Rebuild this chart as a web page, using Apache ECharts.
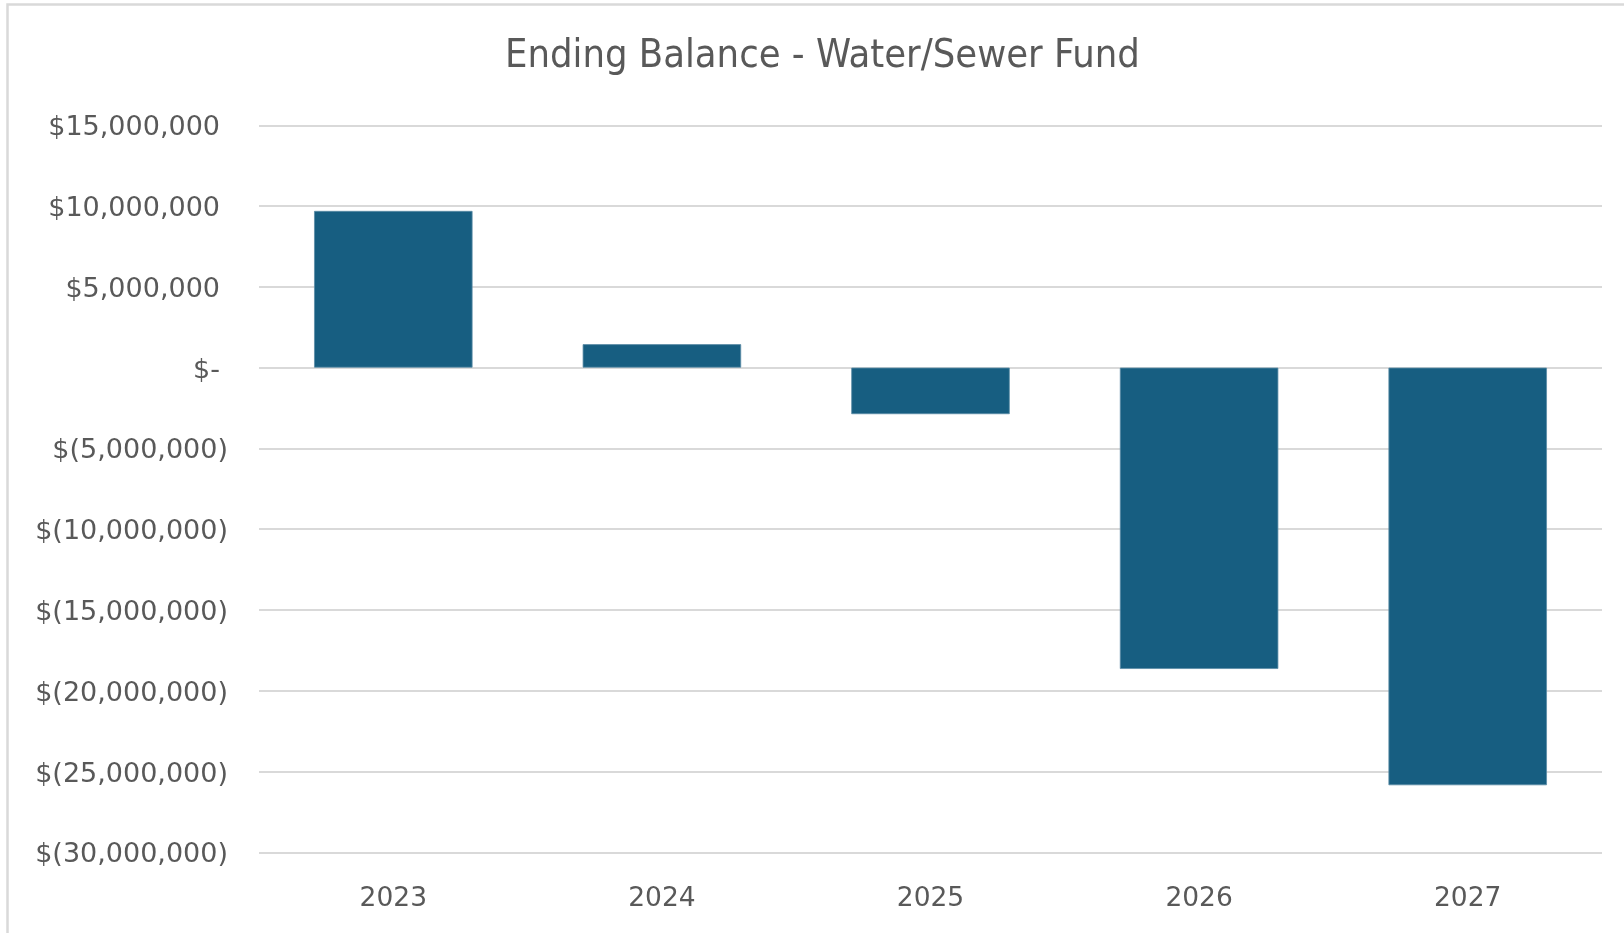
<!DOCTYPE html>
<html>
<head>
<meta charset="utf-8">
<title>Ending Balance - Water/Sewer Fund</title>
<script src="https://cdn.jsdelivr.net/npm/echarts@6/dist/echarts.min.js"></script>
<style>
  html, body { margin: 0; padding: 0; background: #ffffff; }
  #chart { width: 1624px; height: 933px; }
</style>
</head>
<body>
<div id="chart"></div>
<script>
// Fiscal years and projected ending balance of the Water/Sewer fund (USD)
const years = ['2023', '2024', '2025', '2026', '2027'];
const endingBalance = [9700000, 1450000, -2880000, -18650000, -25850000];

// Value axis tick marks (USD)
const valueTicks = [15000000, 10000000, 5000000, 0, -5000000, -10000000, -15000000, -20000000, -25000000, -30000000];

const TEXT = '#595959';
const GRID = '#d9d9d9';
const BAR = '#175e81';
const LABEL_FONT = '"DejaVu Sans", "Liberation Sans", sans-serif';

// Accounting style: $1,000 / $(1,000) / $-, positives padded to line up with the closing parenthesis
function accounting(v) {
  if (v === 0) return '{v|$-}{s| }';
  const a = Math.abs(v).toLocaleString('en-US');
  return v < 0 ? '{v|$(' + a + ')}' : '{v|$' + a + '}{s| }';
}

const chart = echarts.init(document.getElementById('chart'), null, { renderer: 'canvas' });

chart.setOption({
  backgroundColor: '#ffffff',
  animation: false,
  title: {
    text: 'Ending Balance - Water/Sewer Fund',
    left: 505,
    top: 37,
    padding: 0,
    textStyle: {
      fontFamily: '"Liberation Sans Narrow", "DejaVu Sans Condensed", "Roboto", sans-serif',
      fontSize: 39.5,
      fontWeight: 'normal',
      color: TEXT
    }
  },
  graphic: [{
    type: 'rect',
    silent: true,
    shape: { x: 7.5, y: 4.5, width: 1700, height: 1000 },
    style: { fill: 'none', stroke: GRID, lineWidth: 2.5 }
  }],
  grid: { left: 259, right: 22, top: 125.3, bottom: 80.7, containLabel: false },
  xAxis: {
    type: 'category',
    data: years,
    axisLine: { show: false },
    axisTick: { show: false },
    axisLabel: {
      margin: 33,
      fontFamily: LABEL_FONT,
      fontSize: 26.5,
      color: TEXT
    },
    splitLine: { show: false }
  },
  yAxis: {
    type: 'value',
    min: Math.min(...valueTicks),
    max: Math.max(...valueTicks),
    interval: valueTicks[0] - valueTicks[1],
    axisLine: { show: false },
    axisTick: { show: false },
    axisLabel: {
      margin: 31,
      align: 'right',
      padding: [6, 0, 0, 0],
      formatter: accounting,
      rich: {
        v: { fontFamily: LABEL_FONT, fontSize: 27, color: TEXT },
        s: { fontFamily: LABEL_FONT, fontSize: 27, width: 8 }
      }
    },
    splitLine: { lineStyle: { color: GRID, width: 2 } }
  },
  series: [{
    name: 'Ending Balance',
    type: 'bar',
    data: endingBalance,
    barWidth: '59%',
    itemStyle: { color: BAR, borderColor: '#5b8ca6', borderWidth: 0.8 }
  }]
});
</script>
</body>
</html>
